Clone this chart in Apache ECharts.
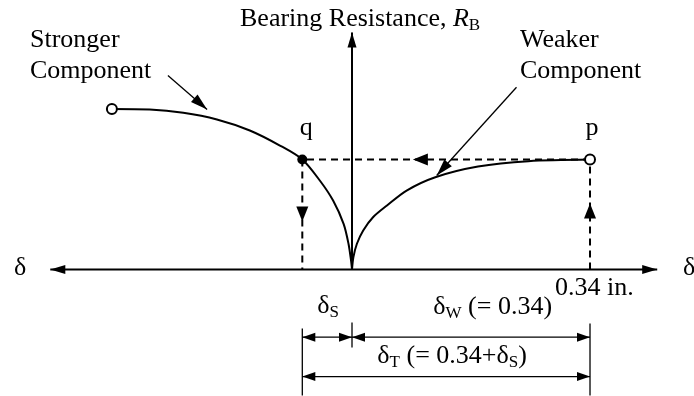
<!DOCTYPE html>
<html><head><meta charset="utf-8">
<script src="https://cdn.jsdelivr.net/npm/echarts/dist/echarts.min.js"></script>
<style>html,body{margin:0;padding:0;background:#fff}#c{width:694px;height:396px}</style>
</head><body><div id="c"></div><script>
// δ in inches (negative = stronger component side), R normalised to the load level
const strongerDelta = [-0.343, -0.289, -0.241, -0.193, -0.146, -0.103, -0.071, -0.046, -0.027, -0.012, -0.005, -0.0014, 0];
const strongerR     = [1.46, 1.455, 1.425, 1.364, 1.264, 1.127, 1.0, 0.809, 0.627, 0.415, 0.234, 0.082, 0];
const weakerDelta   = [0, 0.002, 0.007, 0.016, 0.030, 0.050, 0.078, 0.119, 0.180, 0.252, 0.34];
const weakerR       = [0, 0.112, 0.234, 0.355, 0.475, 0.582, 0.718, 0.839, 0.936, 0.985, 1.0];
const deltaW = 0.34;   // weaker component deformation (in.)
const deltaS = 0.071;  // stronger component deformation
const loadR = 1.0;
const tickLabel = '0.34 in.';
const yTitle = 'Bearing Resistance, ';

const FONT = 'Liberation Serif';
const RICH = {
  n: {fontSize: 26, fontFamily: FONT, fill: '#000', lineHeight: 30},
  i: {fontSize: 26, fontFamily: FONT, fontStyle: 'italic', fill: '#000', lineHeight: 30},
  s: {fontSize: 17, fontFamily: FONT, fill: '#000', lineHeight: 12, verticalAlign: 'bottom'}
};

function renderItem(params, api) {
  const c = (d, r) => api.coord([d, r]);
  const ch = [];
  const line = (a, b, w, dash) => ch.push({type: 'line', shape: {x1: a[0], y1: a[1], x2: b[0], y2: b[1]},
    style: {stroke: '#000', lineWidth: w, lineDash: dash || null}});
  const head = (tip, from, len, wid) => {
    const dx = tip[0] - from[0], dy = tip[1] - from[1], L = Math.hypot(dx, dy);
    const ux = dx / L, uy = dy / L, bx = tip[0] - ux * len, by = tip[1] - uy * len;
    const px = -uy * wid / 2, py = ux * wid / 2;
    ch.push({type: 'polygon', shape: {points: [tip, [bx + px, by + py], [bx - px, by - py]]}, style: {fill: '#000'}});
  };
  const text = (pos, str, align, dx, dy) => ch.push({type: 'text', x: pos[0] + (dx || 0), y: pos[1] + (dy || 0),
    style: {text: str, rich: RICH, align: align || 'left', verticalAlign: 'middle', fill: '#000', font: '26px "' + FONT + '"'}});

  // axes
  const xl = c(-0.431, 0), xr = c(0.436, 0), o = c(0, 0), yt = c(0, 2.155);
  line(xl, xr, 2); head(xl, xr, 15, 9); head(xr, xl, 15, 9);
  line(o, yt, 2); head(yt, o, 15, 9);

  // dashed projection lines
  const q = c(-deltaS, loadR), p = c(deltaW, loadR);
  const dash = [7, 5];
  line(p, q, 2, dash); head(c(0.087, loadR), p, 15, 12);
  line(q, c(-deltaS, 0), 2, dash); head(c(-deltaS, 0.436), q, 15, 12);
  line(c(deltaW, 0), p, 2, dash); head(c(deltaW, 0.6), c(deltaW, 0), 15, 12);

  // leader arrows
  const s1 = c(-0.263, 1.764), s2 = c(-0.207, 1.455);
  line(s1, s2, 1.3); head(s2, s1, 17, 10);
  const w1 = c(0.235, 1.657), w2 = c(0.121, 0.855);
  line(w1, w2, 1.3); head(w2, w1, 17, 10);

  // dimension lines
  line(c(-deltaS, -0.536), c(-deltaS, -1.145), 1.3);
  line(c(0, -0.482), c(0, -0.709), 1.3);
  line(c(deltaW, -0.491), c(deltaW, -1.145), 1.3);
  const dim = (a, b) => { line(a, b, 1.3); head(a, b, 13, 9); head(b, a, 13, 9); };
  dim(c(-deltaS, -0.615), c(0, -0.615));
  dim(c(0, -0.615), c(deltaW, -0.615));
  dim(c(-deltaS, -0.973), c(deltaW, -0.973));

  // texts
  text(c(-0.16, 2.282), '{n|' + yTitle + '}{i|R}{s|B}', 'left', 0, 1);
  text(c(-0.46, 2.091), '{n|Stronger}', 'left', 0, 1);
  text(c(-0.46, 1.809), '{n|Component}', 'left', 0, 1);
  text(c(0.24, 2.091), '{n|Weaker}', 'left', 0, 1);
  text(c(0.24, 1.809), '{n|Component}', 'left', 0, 1);
  text(q, '{n|q}', 'center', 4, -31);
  text(p, '{n|p}', 'center', 2, -31);
  text(c(-0.474, 0), '{n|δ}', 'center', 0, -1);
  text(c(0.473, 0), '{n|δ}', 'left', 0, -1);
  text(c(0.29, -0.173), '{n|' + tickLabel + '}', 'left');
  text(c(-0.034, -0.336), '{n|δ}{s|S}', 'center');
  text(c(0.201, -0.345), '{n|δ}{s|W}{n| (= 0.34)}', 'center');
  text(c(0.143, -0.791), '{n|δ}{s|T}{n| (= 0.34+δ}{s|S}{n|)}', 'center');
  return {type: 'group', children: ch};
}

const chart = echarts.init(document.getElementById('c'), null, {renderer: 'canvas'});
chart.setOption({
  animation: false,
  backgroundColor: '#fff',
  grid: {left: 2, right: 2, top: 0, bottom: 0, containLabel: false},
  xAxis: {type: 'value', min: -0.5, max: 0.4857, show: false},
  yAxis: {type: 'value', min: -1.15, max: 2.45, show: false},
  series: [
    {type: 'custom', renderItem: renderItem, data: [[0, 0]], z: 1, silent: true, clip: false},
    {type: 'line', data: strongerDelta.map((d, i) => [d, strongerR[i]]), smooth: 0.3, showSymbol: false,
     lineStyle: {color: '#000', width: 2}, z: 2},
    {type: 'line', data: weakerDelta.map((d, i) => [d, weakerR[i]]), smooth: 0.3, showSymbol: false,
     lineStyle: {color: '#000', width: 2}, z: 2},
    {type: 'scatter', z: 3, symbol: 'circle', itemStyle: {opacity: 1}, data: [
      {value: [strongerDelta[0], strongerR[0]], symbolSize: 10, itemStyle: {color: '#fff', borderColor: '#000', borderWidth: 2, opacity: 1}},
      {value: [deltaW, loadR], symbolSize: 10, itemStyle: {color: '#fff', borderColor: '#000', borderWidth: 2, opacity: 1}},
      {value: [-deltaS, loadR], symbolSize: 10, itemStyle: {color: '#000', opacity: 1}}
    ]}
  ]
});
</script></body></html>
